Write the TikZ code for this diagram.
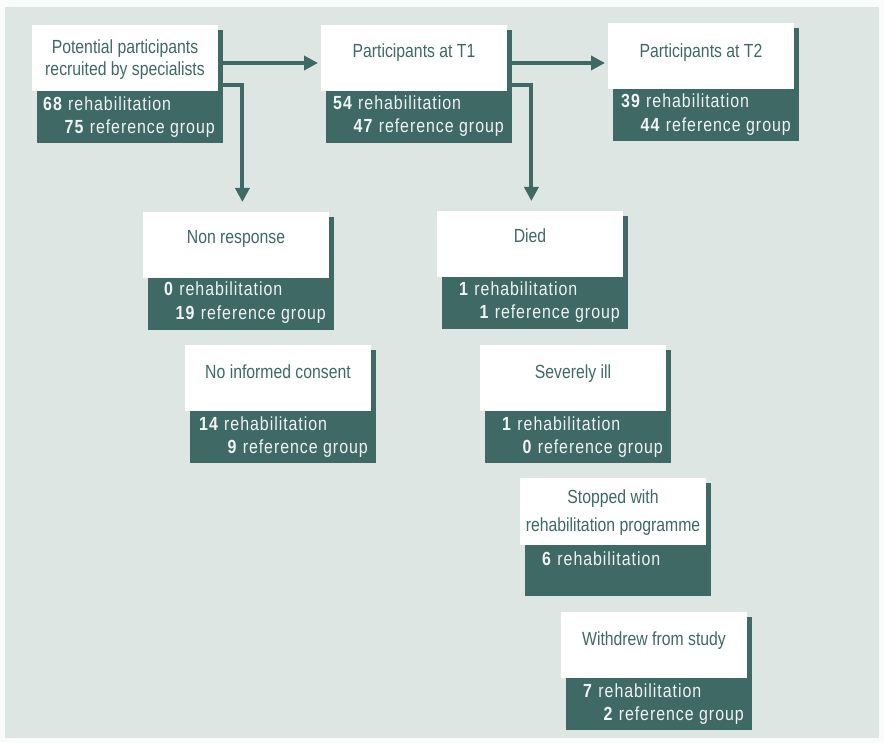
\documentclass[tikz,border=0pt]{standalone}
\usepackage{fontspec}
\setmainfont{Liberation Sans}
\newfontfamily\wfont[FakeStretch=0.83]{Liberation Sans}
\newfontfamily\dfont[FakeStretch=0.84,LetterSpace=5]{Liberation Sans}
\usetikzlibrary{arrows.meta}
\definecolor{teal0}{RGB}{62,105,101}
\definecolor{bgc}{RGB}{222,230,228}
\definecolor{paper}{RGB}{250,251,251}
\definecolor{offw}{RGB}{240,244,243}
\tikzset{
  wbox/.style={fill=white, draw=none, anchor=north west, inner sep=0pt, minimum width=186pt, minimum height=66pt},
  dbox/.style={fill=teal0, draw=none, anchor=north west, inner sep=0pt, minimum width=186pt, minimum height=113pt},
  wtxt/.style={anchor=base, inner sep=0pt, text=teal0, font=\wfont\fontsize{19}{22}\selectfont},
  nleft/.style={anchor=base west, inner sep=0pt, text=offw, font=\dfont\fontsize{19}{22}\selectfont},
  nright/.style={anchor=base east, inner sep=0pt, text=offw, font=\dfont\fontsize{19}{22}\selectfont},
  arr/.style={draw=teal0, line width=4pt, -{Triangle[width=14pt,length=14pt]}}
}
\begin{document}
\begin{tikzpicture}[x=1pt,y=-1pt]
\useasboundingbox (0,0) rectangle (884,743);
\fill[paper] (0,0) rectangle (884,743);
\fill[bgc] (5,7) rectangle (879,738);

% A: Potential participants
\node[dbox] (Ad) at (37,30) {};
\node[wbox] (A) at (32,25) {};
\node[wtxt] (At1) at (125,54) {Potential participants};
\node[wtxt] (At2) at (125,76) {recruited by specialists};
\node[nleft] (An1) at (43,111) {\textbf{68} rehabilitation};
\node[nright] (An2) at (215,134) {\textbf{75} reference group};

% B: Participants at T1
\node[dbox] (Bd) at (326,30) {};
\node[wbox] (B) at (321,25) {};
\node[wtxt] (Bt) at (414,58) {Participants at T1};
\node[nleft] (Bn1) at (333,110) {\textbf{54} rehabilitation};
\node[nright] (Bn2) at (504,133) {\textbf{47} reference group};

% C: Participants at T2
\node[dbox] (Cd) at (613,28) {};
\node[wbox] (C) at (608,23) {};
\node[wtxt] (Ct) at (701,58) {Participants at T2};
\node[nleft] (Cn1) at (621,108) {\textbf{39} rehabilitation};
\node[nright] (Cn2) at (791,132) {\textbf{44} reference group};

% D: Non response
\node[dbox] (Dd) at (148,217) {};
\node[wbox] (D) at (143,212) {};
\node[wtxt] (Dt) at (236,244) {Non response};
\node[nleft] (Dn1) at (164,296) {\textbf{0} rehabilitation};
\node[nright] (Dn2) at (326,320) {\textbf{19} reference group};

% E: No informed consent
\node[dbox] (Ed) at (190,350) {};
\node[wbox] (E) at (185,345) {};
\node[wtxt] (Et) at (278,378) {No informed consent};
\node[nleft] (En1) at (199,430) {\textbf{14} rehabilitation};
\node[nright] (En2) at (368,453) {\textbf{9} reference group};

% F: Died
\node[dbox] (Fd) at (442,216) {};
\node[wbox] (F) at (437,211) {};
\node[wtxt] (Ft) at (530,243) {Died};
\node[nleft] (Fn1) at (459,296) {\textbf{1} rehabilitation};
\node[nright] (Fn2) at (620,319) {\textbf{1} reference group};

% G: Severely ill
\node[dbox] (Gd) at (485,350) {};
\node[wbox] (G) at (480,345) {};
\node[wtxt] (Gt) at (573,378) {Severely ill};
\node[nleft] (Gn1) at (502,430) {\textbf{1} rehabilitation};
\node[nright] (Gn2) at (663,453) {\textbf{0} reference group};

% H: Stopped with rehabilitation programme
\node[dbox] (Hd) at (525,483) {};
\node[wbox, minimum height=67pt] (H) at (520,478) {};
\node[wtxt] (Ht1) at (613,503) {Stopped with};
\node[wtxt] (Ht2) at (613,531) {rehabilitation programme};
\node[nleft] (Hn1) at (542,565) {\textbf{6} rehabilitation};

% I: Withdrew from study
\node[dbox] (Id) at (566,617) {};
\node[wbox] (I) at (561,612) {};
\node[wtxt] (It) at (654,645) {Withdrew from study};
\node[nleft] (In1) at (583,697) {\textbf{7} rehabilitation};
\node[nright] (In2) at (744,720) {\textbf{2} reference group};

% connectors
\draw[arr, shorten >=3pt] ([yshift=-33pt]Ad.north east) -- ([yshift=-33pt]Ad.north east -| B.west);
\draw[arr, shorten >=10pt] ([yshift=-55pt]Ad.north east) -| ([xshift=19pt]Ad.east |- D.north);
\draw[arr, shorten >=3pt] ([yshift=-33pt]Bd.north east) -- ([yshift=-33pt]Bd.north east -| C.west);
\draw[arr, shorten >=10pt] ([yshift=-55pt]Bd.north east) -| ([xshift=19pt]Bd.east |- F.north);
\end{tikzpicture}
\end{document}
